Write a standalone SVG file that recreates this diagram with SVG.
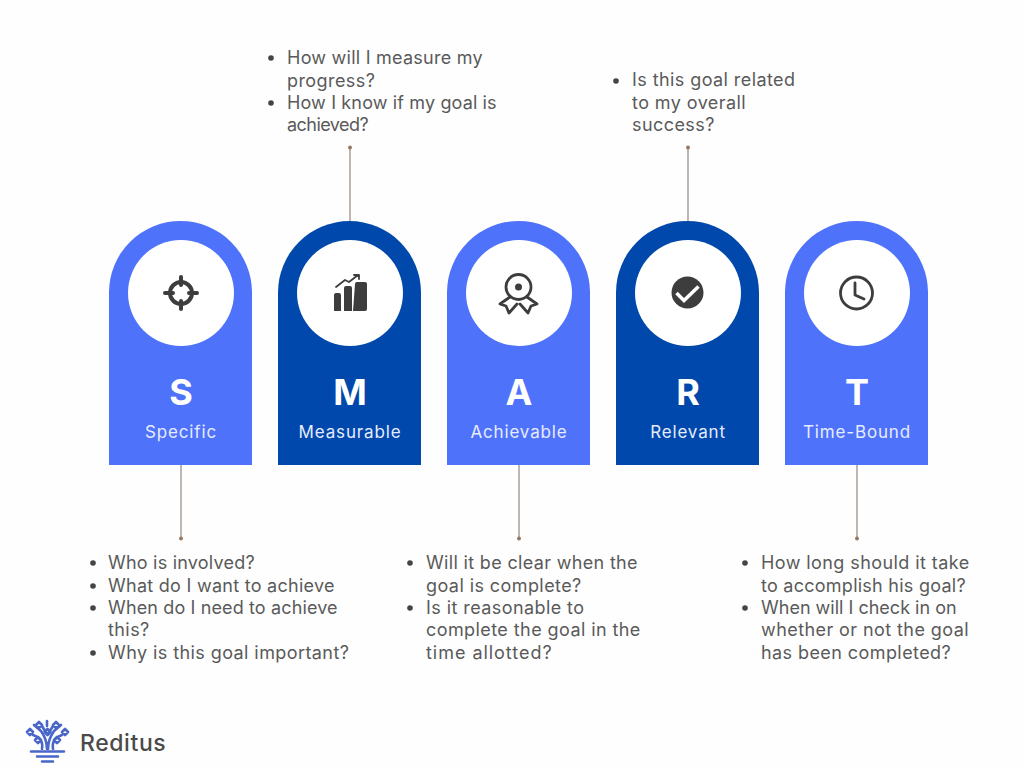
<svg xmlns="http://www.w3.org/2000/svg" width="1024" height="767" viewBox="0 0 1024 767">
<style>
.light{fill:#4f72fb}.dark{fill:#0048ab}
.hole{fill:#fff}
.letter{font:700 36px Inter,"Liberation Sans",sans-serif;fill:#fff;text-anchor:middle}
.name{font:400 17px Inter,"Liberation Sans",sans-serif;fill:#e6ecff;text-anchor:middle;letter-spacing:.85px}
.b{font:400 18px Inter,"Liberation Sans",sans-serif;fill:#5a5a5a;letter-spacing:.42px}
.dot{fill:#444}
.line{stroke:#a89f98;stroke-width:1.5;fill:none}
.end{fill:#9a7860}
.ico{fill:none;stroke:#3d3d3d;stroke-width:2.8;stroke-linejoin:round;stroke-linecap:round}
.thick{stroke-width:4}
.thin{stroke-width:1.8}
.fi{fill:#3d3d3d}
.logo{fill:none;stroke:#4a66c8;stroke-width:2.6;stroke-linecap:round;stroke-linejoin:round}
</style>
<rect width="1024" height="767" fill="#fefefe"/>
<g id="connectors">
<path class="line" d="M181 465V538M350 148V221M519 465V538M688 148V221M857 465V538"/>
<circle class="end" cx="181" cy="538.500" r="2"/><circle class="end" cx="350" cy="147.500" r="2"/><circle class="end" cx="519" cy="538.500" r="2"/><circle class="end" cx="688" cy="147.500" r="2"/><circle class="end" cx="857" cy="538.500" r="2"/>
</g>
<g id="node-s">
<path class="light" d="M109 465V292.500A71.500 71.500 0 0 1 252 292.500V465Z"/><circle class="hole" cx="181" cy="293" r="53"/>
<circle class="ico thick" cx="181" cy="293" r="11"/><path class="ico thick" d="M181 277V285M181 301V309M165 293H173M189 293H197"/>
<text class="letter" x="181" y="405">S</text><text class="name" x="181" y="437.500">Specific</text>
</g>
<g id="node-m">
<path class="dark" d="M278 465V292.500A71.500 71.500 0 0 1 421 292.500V465Z"/><circle class="hole" cx="350" cy="293" r="53"/>
<path class="fi" d="M334 295q0-2 2-2h3q2 0 2 2v16h-7ZM344 288q0-2 2-2h4q2 0 2 2v23h-8ZM355 284q0-2 2-2h8q2 0 2 2v25q0 2-2 2h-12Z"/>
<path class="ico thin" d="M336 287L345 280L349 282L358 275M354 275H359V279"/>
<text class="letter" x="350" y="405">M</text><text class="name" x="350" y="437.500">Measurable</text>
</g>
<g id="node-a">
<path class="light" d="M447 465V292.500A71.500 71.500 0 0 1 590 292.500V465Z"/><circle class="hole" cx="519" cy="293" r="53"/>
<circle class="ico" cx="518.500" cy="287" r="12.500"/><path class="ico" d="M510 297L500 304L506 306L509 313L517 304M527 297L537 304L531 306L528 313L520 304"/>
<circle class="fi" cx="518.500" cy="287" r="3.500"/>
<text class="letter" x="519" y="405">A</text><text class="name" x="519" y="437.500">Achievable</text>
</g>
<g id="node-r">
<path class="dark" d="M616 465V292.500A71.500 71.500 0 0 1 759 292.500V465Z"/><circle class="hole" cx="688" cy="293" r="53"/>
<circle class="fi" cx="687.500" cy="292.500" r="16"/><path d="M676.500 293L684 300.500L698.500 286.500" fill="none" stroke="#fff" stroke-width="3.500"/>
<text class="letter" x="688" y="405">R</text><text class="name" x="688" y="437.500">Relevant</text>
</g>
<g id="node-t">
<path class="light" d="M785 465V292.500A71.500 71.500 0 0 1 928 292.500V465Z"/><circle class="hole" cx="857" cy="293" r="53"/>
<circle class="ico" cx="856.500" cy="293" r="16"/><path class="ico" d="M855 283V295L864 299"/>
<text class="letter" x="857" y="405">T</text><text class="name" x="857" y="437.500">Time-Bound</text>
</g>
<g id="text-m">
<circle class="dot" cx="271" cy="58" r="2.800"/><text class="b" x="287" y="64" textLength="196">How will I measure my</text><text class="b" x="287" y="87">progress?</text>
<circle class="dot" cx="271" cy="103" r="2.800"/><text class="b" x="287" y="109" textLength="210">How I know if my goal is</text><text class="b" x="287" y="131" textLength="82">achieved?</text>
</g>
<g id="text-r">
<circle class="dot" cx="616" cy="81" r="2.800"/><text class="b" x="632" y="86">Is this goal related</text><text class="b" x="632" y="109">to my overall</text><text class="b" x="632" y="131">success?</text>
</g>
<g id="text-s">
<circle class="dot" cx="93" cy="563" r="2.800"/><text class="b" x="108" y="569" textLength="147">Who is involved?</text>
<circle class="dot" cx="93" cy="586" r="2.800"/><text class="b" x="108" y="592" textLength="227">What do I want to achieve</text>
<circle class="dot" cx="93" cy="608" r="2.800"/><text class="b" x="108" y="614" textLength="230">When do I need to achieve</text><text class="b" x="108" y="636">this?</text>
<circle class="dot" cx="93" cy="653" r="2.800"/><text class="b" x="108" y="659">Why is this goal important?</text>
</g>
<g id="text-a">
<circle class="dot" cx="410" cy="563" r="2.800"/><text class="b" x="426" y="569" textLength="212">Will it be clear when the</text><text class="b" x="426" y="592">goal is complete?</text>
<circle class="dot" cx="410" cy="608" r="2.800"/><text class="b" x="426" y="614">Is it reasonable to</text><text class="b" x="426" y="636">complete the goal in the</text><text class="b" x="426" y="659" textLength="126">time allotted?</text>
</g>
<g id="text-t">
<circle class="dot" cx="745" cy="563" r="2.800"/><text class="b" x="761" y="569">How long should it take</text><text class="b" x="761" y="592" textLength="205">to accomplish his goal?</text>
<circle class="dot" cx="745" cy="608" r="2.800"/><text class="b" x="761" y="614" textLength="196">When will I check in on</text><text class="b" x="761" y="636">whether or not the goal</text><text class="b" x="761" y="659">has been completed?</text>
</g>
<g id="logo">
<path class="logo" d="M42 749C43 742 41 738 33 735M53 749C52 742 54 738 62 735M47 749C47 743 46 738 41 731M48 749C48 743 49 738 54 731M41 731L34 725M54 731L61 725M47 734L42 726M48 734L53 726M47 726V721"/>
<path class="logo" d="M30 729l3 3l-3 3l-3-3ZM65 729l3 3l-3 3l-3-3ZM47.500 729l3 3l-3 3l-3-3ZM38 737l3 3l-3 3l-3-3ZM57 737l3 3l-3 3l-3-3ZM39 722l3 3l-3 3l-3-3ZM56 722l3 3l-3 3l-3-3Z"/>
<path class="logo" d="M31 751.500H64M37 756.500H58M42 761.500H53"/>
<text x="80" y="751" style="font:500 23px Inter,'Liberation Sans',sans-serif;fill:#4a4a4a;letter-spacing:.6px">Reditus</text>
</g>
</svg>
